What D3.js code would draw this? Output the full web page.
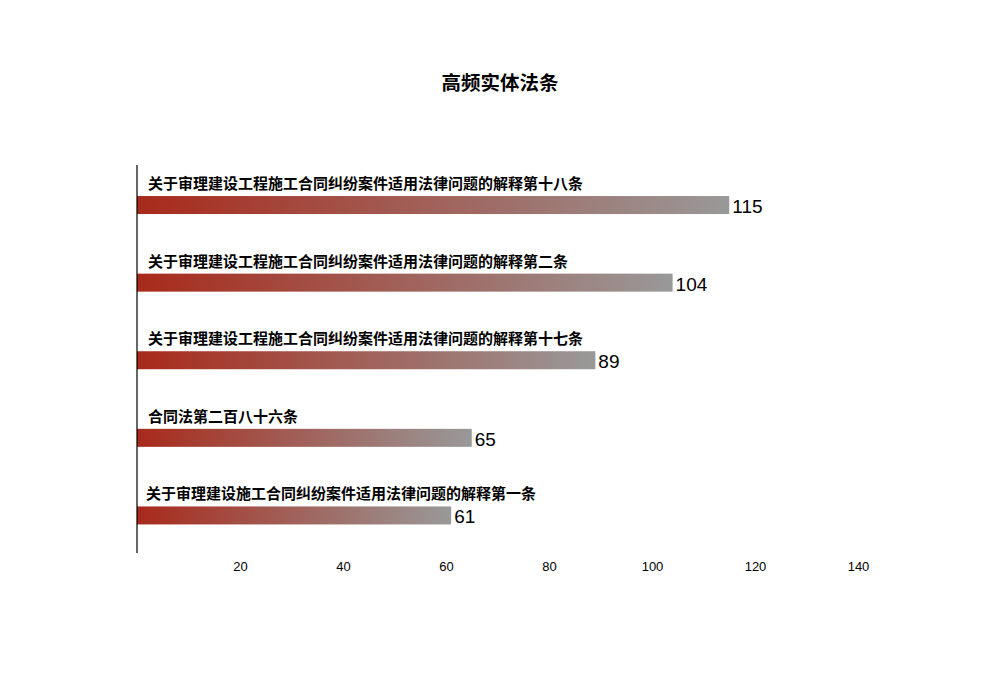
<!doctype html>
<html>
<head>
  <meta charset="utf-8">
  <title>高频实体法条</title>
  <script src="https://cdnjs.cloudflare.com/ajax/libs/d3/7.8.5/d3.min.js"></script>
  <style>
    body { margin: 0; background: #fff; font-family: "Liberation Sans", Arial, "Noto Sans CJK SC", sans-serif; }
  </style>
</head>
<body>
  <div id="chart"></div>
  <script>
    // data
    const laws = [
      '关于审理建设工程施工合同纠纷案件适用法律问题的解释第十八条',
      '关于审理建设工程施工合同纠纷案件适用法律问题的解释第二条',
      '关于审理建设工程施工合同纠纷案件适用法律问题的解释第十七条',
      '合同法第二百八十六条',
      '关于审理建设施工合同纠纷案件适用法律问题的解释第一条'
    ];
    const counts = [115, 104, 89, 65, 61];
    const xTicks = [20, 40, 60, 80, 100, 120, 140];

    const width = 1000, height = 700;
    const svg = d3.select('#chart')
      .append('svg')
      .attr('width', width)
      .attr('height', height);

    // gradient for the bars, red on the left fading to grey
    const grad = svg.append('defs')
      .append('linearGradient')
      .attr('id', 'barGrad')
      .attr('x1', '0%').attr('x2', '100%')
      .attr('y1', '0%').attr('y2', '0%');
    grad.append('stop').attr('offset', '0%').attr('stop-color', '#a82a1b');
    grad.append('stop').attr('offset', '100%').attr('stop-color', '#999999');

    const x = d3.scaleLinear().domain([0, 140]).range([137, 858]);
    const y = d3.scaleBand().domain(laws).range([165, 553]);

    svg.append('text')
      .attr('x', 500)
      .attr('y', 90)
      .attr('text-anchor', 'middle')
      .style('font-family', '"Noto Sans CJK SC", sans-serif')
      .style('font-size', '19.5px')
      .style('font-weight', 'bold')
      .text('高频实体法条');

    const rows = svg.selectAll('g.row')
      .data(laws)
      .join('g')
      .attr('class', 'row');

    const barH = 18;
    rows.append('rect')
      .attr('x', x(0))
      .attr('y', d => y(d) + y.bandwidth() * 0.4)
      .attr('width', (d, i) => x(counts[i]) - x(0))
      .attr('height', barH)
      .style('fill', 'url(#barGrad)');

    rows.append('text')
      .attr('x', (d, i) => i == 4 ? 146 : 148)
      .attr('y', d => y(d) + y.bandwidth() * 0.4 - 7)
      .style('font-family', '"Noto Sans CJK SC", sans-serif')
      .style('font-size', '15px')
      .style('font-weight', 'bold')
      .text(d => d);

    rows.append('text')
      .attr('x', (d, i) => x(counts[i]) + 3)
      .attr('y', d => y(d) + y.bandwidth() * 0.4 + barH - 1)
      .style('font-size', '19px')
      .text((d, i) => counts[i]);

    // vertical axis line, no ticks
    svg.append('line')
      .attr('x1', x(0)).attr('x2', x(0))
      .attr('y1', 165).attr('y2', 553)
      .style('stroke', '#000')
      .style('stroke-width', 1.2);

    // bottom tick labels only
    const xAxis = svg.append('g')
      .attr('transform', 'translate(0,553)')
      .call(d3.axisBottom(x).tickValues(xTicks).tickSize(0).tickPadding(9));
    xAxis.select('.domain').remove();
    xAxis.selectAll('text')
      .style('font-family', '"Liberation Sans", Arial, sans-serif')
      .style('font-size', '13px')
      .style('fill', '#000');
  </script>
</body>
</html>
